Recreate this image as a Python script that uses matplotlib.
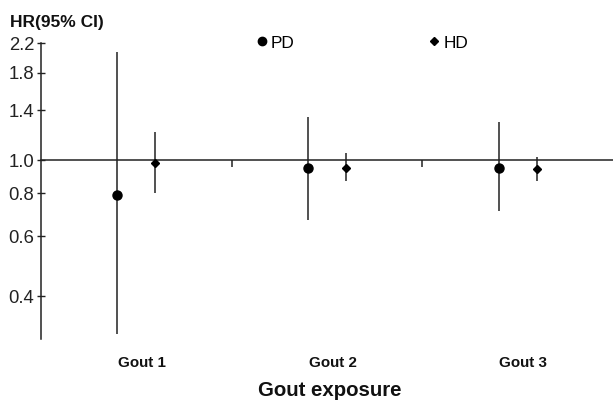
import matplotlib.pyplot as plt
from matplotlib.lines import Line2D
import numpy as np

plt.rcParams['font.family'] = ['Liberation Sans', 'DejaVu Sans']

categories = ['Gout 1', 'Gout 2', 'Gout 3']
pd_hr = [0.79, 0.95, 0.95]
pd_lo = [0.31, 0.67, 0.71]
pd_hi = [2.07, 1.34, 1.29]
hd_hr = [0.98, 0.95, 0.94]
hd_lo = [0.80, 0.87, 0.87]
hd_hi = [1.21, 1.05, 1.02]
yticks = [0.4, 0.6, 0.8, 1.0, 1.4, 1.8, 2.2]

line_col = '#222222'

fig = plt.figure(figsize=(6.13, 4.03), dpi=100)
ax = fig.add_axes([41 / 613, 1 - 339 / 403, 1 - 41 / 613, (339 - 43) / 403])

x = np.arange(1, len(categories) + 1)
off = 0.1

pd_hr_a = np.array(pd_hr)
hd_hr_a = np.array(hd_hr)
pd_err = [pd_hr_a - np.array(pd_lo), np.array(pd_hi) - pd_hr_a]
hd_err = [hd_hr_a - np.array(hd_lo), np.array(hd_hi) - hd_hr_a]

ax.errorbar(x - off, pd_hr, yerr=pd_err, fmt='o', color='black', ecolor=line_col,
            elinewidth=1.1, capsize=0, markersize=6.5, zorder=3)
ax.errorbar(x + off, hd_hr, yerr=hd_err, fmt='D', color='black', ecolor=line_col,
            elinewidth=1.1, capsize=0, markersize=4.5, zorder=3)

ax.set_yscale('log')
ax.set_ylim(0.3, 2.2)
ax.set_xlim(0.5, len(categories) + 0.5)
ax.set_yticks(yticks)
ax.set_yticklabels([f'{t:.1f}' for t in yticks], fontsize=13.3, color='#222222')
ax.yaxis.set_minor_locator(plt.NullLocator())
ax.tick_params(axis='y', direction='inout', length=6, width=1, color=line_col, pad=2)

# x axis crosses at HR = 1.0
ax.spines['bottom'].set_position(('data', 1.0))
ax.spines['bottom'].set_color(line_col)
ax.spines['bottom'].set_linewidth(1.1)
ax.spines['left'].set_color(line_col)
ax.spines['left'].set_linewidth(1.1)
ax.spines['top'].set_visible(False)
ax.spines['right'].set_visible(False)
ax.set_xticks(x[:-1] + 0.5)
ax.set_xticklabels([])
ax.xaxis.set_minor_locator(plt.NullLocator())
ax.tick_params(axis='x', direction='out', length=5, width=1.1, color=line_col)

trans = ax.get_xaxis_transform()
for xi, lab in zip(x, categories):
    ax.text(xi + 0.03, -0.081, lab, transform=trans, ha='center', va='center',
            fontsize=10.9, fontweight='bold', color='#111111')

handles = [Line2D([], [], marker='o', color='black', linestyle='none', markersize=6),
           Line2D([], [], marker='D', color='black', linestyle='none', markersize=4.5)]
ax.legend(handles, ['PD', 'HD'], ncol=2, loc='center left', bbox_to_anchor=(0.378, 1.0),
          frameon=False, fontsize=12.4, handlelength=0.5, handletextpad=0.3,
          columnspacing=7.85, borderaxespad=0, borderpad=0)

fig.text(10 / 613, 1 - 22 / 403, 'HR(95% CI)', ha='left', va='center',
         fontsize=12.5, fontweight='bold', color='#111111')
fig.text(330 / 613, 1 - 390 / 403, 'Gout exposure', ha='center', va='center',
         fontsize=14.7, fontweight='bold', color='#111111')

fig.savefig('out.png', dpi=100)
